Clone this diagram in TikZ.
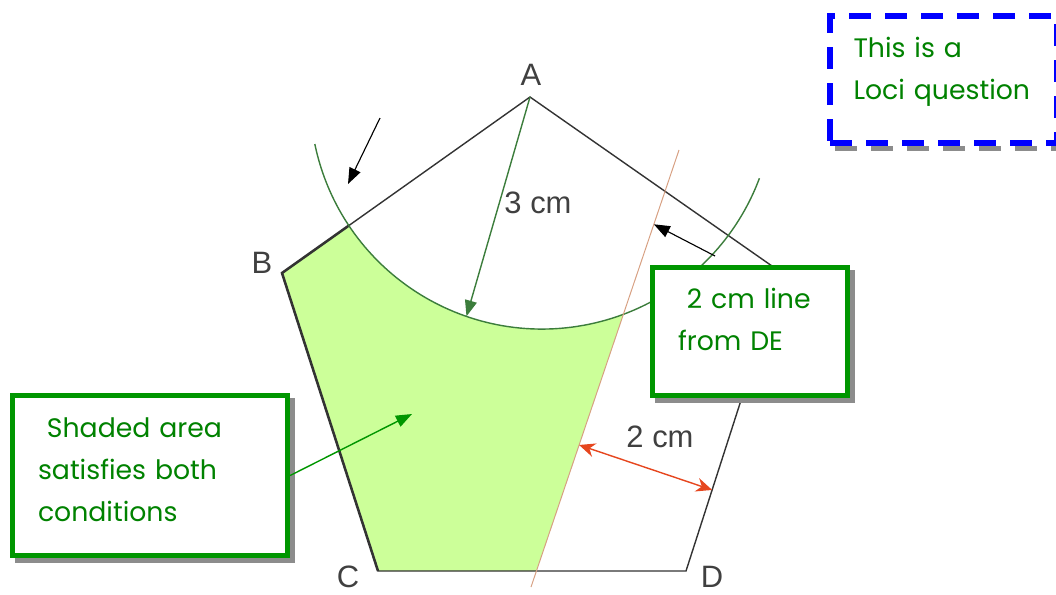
\documentclass[tikz,border=0pt]{standalone}
\usepackage{fontspec}
\setmainfont{Liberation Sans}
\newfontfamily\notefont{Poppins}
\usepackage{tikz}
\usetikzlibrary{arrows.meta,calc}
\definecolor{notegreen}{RGB}{0,130,0}
\definecolor{boxgreen}{RGB}{0,150,0}
\definecolor{regionfill}{RGB}{204,255,153}
\definecolor{arcgreen}{RGB}{60,125,60}
\definecolor{locusline}{RGB}{215,160,130}
\definecolor{measurered}{RGB}{230,70,30}

\begin{document}
\begin{tikzpicture}[x=0.025cm, y=-0.025cm,
  lbl/.style={text=black!75, font=\fontsize{22}{26}\selectfont, inner sep=0pt},
  shadowed/.style={preaction={draw=black!45, line width=1.25mm, #1,
    transform canvas={shift={(1.3mm,-1.3mm)}}}},
  shadowed/.default={},
  lift/.style={execute at end node={\endgraf\vspace*{#1}}},
  note/.style={draw=boxgreen, line width=1.25mm, fill=white, align=left, text=notegreen,
    font=\notefont\fontsize{19}{30}\selectfont, inner xsep=6mm, anchor=north west},
  side/.style={draw=black!80, line width=1pt},
  pointer/.style={-{Triangle[length=4mm,width=3mm]}, line width=0.8pt}]

\useasboundingbox (0,0) rectangle (1056,594);
\coordinate (A) at (530,97);
\coordinate (B) at (282,273);
\coordinate (C) at (378,571);
\coordinate (D) at (686,571);
\coordinate (E) at (782,273);
\coordinate (O) at (542,97);   % centre of the arc
\coordinate (L1) at (531,587);
\coordinate (L2) at (679,150);
\coordinate (P) at ($(A)!0.73!(B)$);

% region that satisfies both conditions
\begin{scope}
  \clip (A) -- (B) -- (C) -- (D) -- (E) -- cycle;
  \clip ($(L1)!-0.2!(L2)$) -- ($(L1)!1.5!(L2)$) -- (0,-100) -- (0,700) -- cycle;
  \fill[regionfill, even odd rule] (0,0) rectangle (1056,594) (O) circle[radius=5.8cm];
\end{scope}

% pentagon
\draw[side] (A) -- (B) -- (C) -- (D) -- (E) -- cycle;
\draw[side, line width=1.8pt] (P) -- (B) -- (C);

% loci
\draw[arcgreen, line width=1pt] ($(O)+(168.3:232)$) arc[start angle=191.7, end angle=339.5, radius=5.8cm];
\draw[locusline, line width=0.7pt] (L1) -- (L2);

\node[lbl] (la) at (531,75) {A};
\node[lbl] (lb) at (262,263) {B};
\node[lbl] (lc) at (348,577) {C};
\node[lbl] (ld) at (712,577) {D};

% 3 cm radius
\coordinate (T) at ($(O)+(109:232)$);
\draw[pointer, arcgreen, line width=1pt] (A) -- (T);
\node[lbl] (three) at (538,203) {3 cm};

% 2 cm distance
\coordinate (R1) at ($(L1)!0.325!(L2)$);
\coordinate (R2) at ($(D)!0.272!(E)$);
\draw[{Stealth[length=4mm,width=3.5mm]}-{Stealth[length=4mm,width=3.5mm]}, measurered, line width=1pt] (R1) -- (R2);
\node[lbl] (two) at (660,437) {2 cm};

% notes
\node[note, shadowed, lift=3mm, minimum width=6.875cm, minimum height=4cm, text width=5.6cm] (shaded) at (10,393)
  {~Shaded area\\satisfies both\\conditions};
\node[note, shadowed, lift=6mm, minimum width=4.875cm, minimum height=3.2cm, text width=3.6cm] (de) at (650,265)
  {~2 cm line\\from DE};
\node[note, draw=blue, line width=1.5mm, dash pattern=on 5.5mm off 3.5mm,
  shadowed={dash pattern=on 5.5mm off 3.5mm}, lift=4mm, minimum width=5.675cm, minimum height=3.175cm,
  inner xsep=5.8mm, text width=4.5cm] (loci) at (827,13) {This is a\\Loci question};

% pointers
\coordinate (arcend) at (348,184);
\coordinate (arctail) at (380,118);
\draw[pointer] (arctail) -- (arcend);
\coordinate (H) at ($(L1)!0.83!(L2)$);
\coordinate (detail) at (715,256);
\draw[pointer] (detail) -- (H);
\coordinate (inside) at (412,414);
\draw[pointer, boxgreen, line width=1pt] (shaded.east) -- (inside);
\end{tikzpicture}
\end{document}
